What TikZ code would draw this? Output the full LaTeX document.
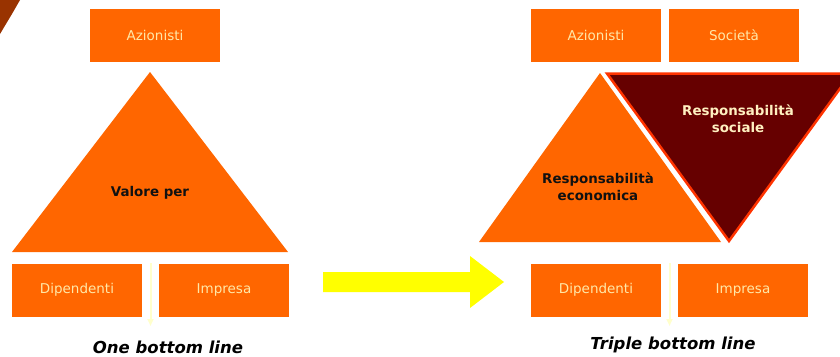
\documentclass[tikz,border=0pt]{standalone}
\usepackage{fontspec}
\setmainfont{DejaVu Sans}
\usetikzlibrary{arrows.meta}
\definecolor{bxorange}{HTML}{FF6600}
\definecolor{bxtext}{HTML}{FFE8A8}
\definecolor{darkred}{HTML}{660000}
\definecolor{edgered}{HTML}{FF3300}
\definecolor{arrowyellow}{HTML}{FFFF00}
\definecolor{paleyellow}{HTML}{FFFFCC}
\definecolor{brownish}{HTML}{993300}
\definecolor{creamtext}{HTML}{FFF0C0}
\definecolor{nearblack}{HTML}{111111}
\begin{document}
\begin{tikzpicture}[x=1pt,y=-1pt,
  box/.style={fill=bxorange, text=bxtext, minimum width=130pt, minimum height=53pt,
    inner sep=0pt, font=\fontsize{13.5}{16}\selectfont},
  tri/.style={fill=bxorange},
  label/.style={font=\bfseries\fontsize{13.4}{17}\selectfont, align=center, inner sep=0pt},
  caption/.style={font=\bfseries\itshape\fontsize{16.5}{20}\selectfont, text=black, inner sep=0pt, anchor=base},
  faint/.style={paleyellow, line width=2pt, -{Triangle[width=6pt,length=7pt]}},
  bigarrow/.style={fill=arrowyellow}]
\useasboundingbox (0,0) rectangle (840,356);

% corner decoration
\fill[brownish] (0,0) -- (20,0) .. controls (12,14) .. (0,34) -- cycle;

% ---- left diagram ----
\node[box] (lAz) at (155,35.5) {Azionisti};
\fill[tri] (150,72) -- (288,252) -- (12,252) -- cycle;
\node[label, text=nearblack] (lVal) at (150,193) {Valore per};
\node[box] (lDip) at (77,290) {Dipendenti};
\node[box] (lImp) at (224,290) {Impresa};
\coordinate (lTop) at (150.5,263);
\coordinate (lEnd) at (150.5,326);
\draw[faint] (lTop) -- (lEnd);
\node[caption] (lCap) at (168,353) {One bottom line};

% ---- arrow ----
\fill[bigarrow] (323,272) -- (470,272) -- (470,256) -- (504,282) -- (470,308) -- (470,292) -- (323,292) -- cycle;

% ---- right diagram ----
\node[box] (rAz) at (596,35.5) {Azionisti};
\node[box] (rSoc) at (734,35.5) {Società};
\fill[tri] (600,73) -- (721,242) -- (479,242) -- cycle;
\filldraw[fill=darkred, draw=edgered, line width=2.5pt, line join=miter]
  (607,73.5) -- (851,73.5) -- (729,241) -- cycle;
\node[label, text=nearblack] (rEco) at (598,186.5) {Responsabilità\\economica};
\node[label, text=creamtext] (rSoc2) at (738,119) {Responsabilità\\sociale};
\node[box] (rDip) at (596,290) {Dipendenti};
\node[box] (rImp) at (743,290) {Impresa};
\coordinate (rTop) at (669.5,263);
\coordinate (rEnd) at (669.5,326);
\draw[faint] (rTop) -- (rEnd);
\node[caption] (rCap) at (673,349) {Triple bottom line};
\end{tikzpicture}
\end{document}
